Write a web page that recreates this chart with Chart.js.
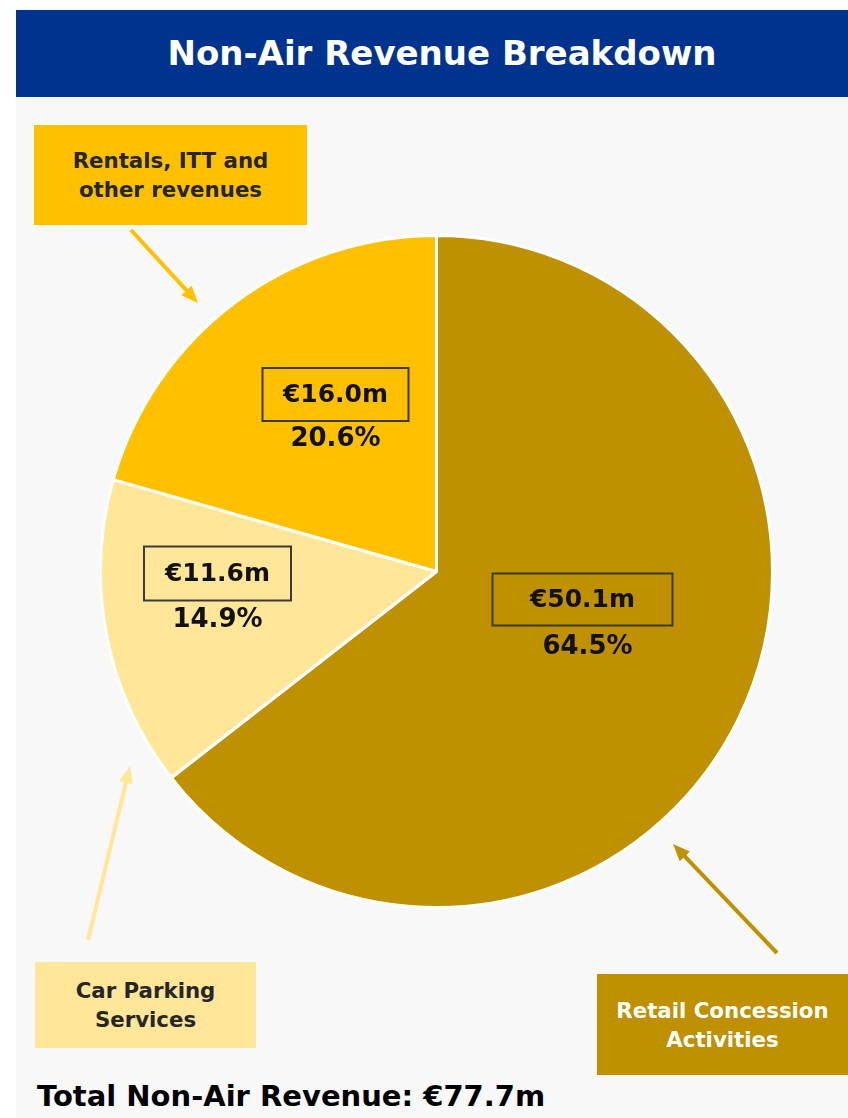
<!DOCTYPE html>
<html>
<head>
<meta charset="utf-8">
<script src="https://cdn.jsdelivr.net/npm/chart.js@4.4.0/dist/chart.umd.min.js"></script>
<style>
  body { margin: 0; width: 848px; height: 1118px; position: relative; background: #fff; overflow: hidden;
         font-family: "DejaVu Sans", Verdana, sans-serif; }
  #bar { position: absolute; left: 16px; top: 10px; width: 812px; height: 87px; padding-left: 20px;
         background: #00338D; color: #fff; font-weight: bold; font-size: 34px; line-height: 87px; text-align: center; }
  #panel { position: absolute; left: 16px; top: 97px; width: 832px; height: 1021px; background: #F8F8F8; }
  .callout { position: absolute; display: flex; align-items: center; justify-content: center; text-align: center;
             font-weight: bold; font-size: 21.3px; line-height: 29px; color: #262626; }
  #pieBox { position: absolute; left: 99px; top: 234px; width: 675px; height: 675px; }
  #arrows { position: absolute; left: 0; top: 0; }
  #total { position: absolute; left: 37px; top: 1079px; font-size: 29px; font-weight: bold; color: #000; white-space: nowrap; }
</style>
</head>
<body>
<div id="bar">Non-Air Revenue Breakdown</div>
<div id="panel"></div>

<div class="callout" style="left:34px;top:125px;width:273px;height:100px;background:#FFC000;">Rentals, ITT and<br>other revenues</div>
<div class="callout" style="left:35px;top:962px;width:221px;height:86px;background:#FFE699;">Car Parking<br>Services</div>
<div class="callout" style="left:597px;top:974px;width:251px;height:101px;background:#BF9000;color:#fff;">Retail Concession<br>Activities</div>

<svg id="arrows" width="848" height="1118"></svg>

<div id="pieBox"><canvas id="pie"></canvas></div>

<div id="total">Total Non-Air Revenue: €77.7m</div>

<script>
// ==== data ====
var categories = ['Retail Concession Activities', 'Car Parking Services', 'Rentals, ITT and other revenues'];
var revenueM = [50.1, 11.6, 16.0];
var sharePct = [64.5, 14.9, 20.6];
var sliceColors = ['#BF9000', '#FFE699', '#FFC000'];

// label box placement, relative to the pie centre
var labelLayout = [
  { dx: 146, dy: 28, w: 180, h: 52, pdx: 5, pdy: 48 },
  { dx: -219, dy: 2, w: 147, h: 54, pdx: 0, pdy: 47 },
  { dx: -101, dy: -177, w: 146, h: 53, pdx: 0, pdy: 45 }
];

// ==== arrows (annotations) ====
var arrows = [
  { from: [131, 230], to: [198, 303], color: '#FFC000' },
  { from: [88, 940], to: [130, 766], color: '#FFE699' },
  { from: [777, 953], to: [673, 844], color: '#BF9000' }
];
var svg = document.getElementById('arrows');
var ns = 'http://www.w3.org/2000/svg';
arrows.forEach(function (a) {
  var dx = a.to[0] - a.from[0], dy = a.to[1] - a.from[1];
  var len = Math.sqrt(dx * dx + dy * dy), ux = dx / len, uy = dy / len;
  var headL = 17, headW = 7;
  var bx = a.to[0] - ux * headL, by = a.to[1] - uy * headL;
  var line = document.createElementNS(ns, 'line');
  line.setAttribute('x1', a.from[0]); line.setAttribute('y1', a.from[1]);
  line.setAttribute('x2', bx + ux * 2); line.setAttribute('y2', by + uy * 2);
  line.setAttribute('stroke', a.color); line.setAttribute('stroke-width', 4);
  svg.appendChild(line);
  var head = document.createElementNS(ns, 'polygon');
  head.setAttribute('points', [a.to[0], a.to[1], bx - uy * headW, by + ux * headW, bx + uy * headW, by - ux * headW].join(' '));
  head.setAttribute('fill', a.color);
  svg.appendChild(head);
});

// ==== value labels plugin ====
var valueLabels = {
  id: 'valueLabels',
  afterDatasetsDraw: function (chart) {
    var ctx = chart.ctx;
    var meta = chart.getDatasetMeta(0);
    ctx.save();
    ctx.textAlign = 'center';
    ctx.textBaseline = 'middle';
    meta.data.forEach(function (arc, i) {
      var L = labelLayout[i];
      var cx = arc.x + L.dx, cy = arc.y + L.dy;
      ctx.strokeStyle = '#3a3a3a';
      ctx.lineWidth = 2;
      ctx.strokeRect(cx - L.w / 2, cy - L.h / 2, L.w, L.h);
      ctx.fillStyle = '#111';
      ctx.font = 'bold 25px "DejaVu Sans", Verdana, sans-serif';
      ctx.fillText('€' + revenueM[i].toFixed(1) + 'm', cx, cy + 1);
      ctx.font = 'bold 26px "DejaVu Sans", Verdana, sans-serif';
      ctx.fillText(sharePct[i].toFixed(1) + '%', cx + L.pdx, cy + L.pdy);
    });
    ctx.restore();
  }
};

new Chart(document.getElementById('pie').getContext('2d'), {
  type: 'pie',
  data: {
    labels: categories,
    datasets: [{
      data: revenueM,
      backgroundColor: sliceColors,
      borderColor: '#ffffff',
      borderWidth: 3
    }]
  },
  options: {
    responsive: true,
    maintainAspectRatio: false,
    animation: false,
    layout: { padding: 0 },
    plugins: {
      legend: { display: false },
      tooltip: { enabled: false }
    }
  },
  plugins: [valueLabels]
});
</script>
</body>
</html>
